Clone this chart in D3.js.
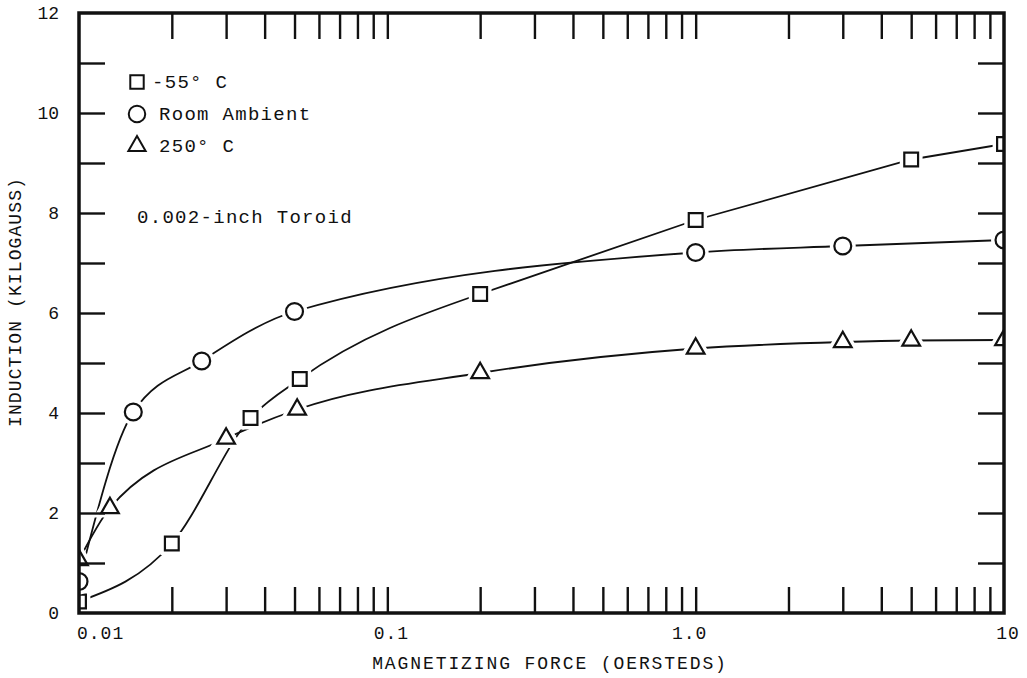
<!DOCTYPE html>
<html>
<head>
<meta charset="utf-8">
<script src="https://cdn.jsdelivr.net/npm/d3@7"></script>
<style>
body { margin: 0; background: #fff; }
text { font-family: "Liberation Mono", "DejaVu Sans Mono", monospace; fill: #111; }
</style>
</head>
<body>
<div id="root"></div>
<script>
// -55 C
const coldH = [0.01, 0.02, 0.036, 0.052, 0.2, 1.0, 5.0, 10];
const coldB = [0.23, 1.39, 3.9, 4.68, 6.38, 7.86, 9.07, 9.38];
// room ambient
const roomH = [0.01, 0.015, 0.025, 0.05, 1.0, 3.0, 10];
const roomB = [0.63, 4.02, 5.04, 6.03, 7.21, 7.34, 7.46];
// 250 C
const hotH = [0.01, 0.0126, 0.03, 0.051, 0.2, 1.0, 3.0, 5.0, 10];
const hotB = [1.06, 2.1, 3.49, 4.07, 4.8, 5.29, 5.42, 5.45, 5.46];

const seriesNames = ["-55° C", "Room Ambient", "250° C"];
const xLabelValues = [0.01, 0.1, 1, 10];
const xLabelText = ["0.01", "0.1", "1.0", "10"];
const yLabelValues = [0, 2, 4, 6, 8, 10, 12];
const note = "0.002-inch Toroid";

function drawChart() {
    const width = 1027, height = 678;
    const left = 79, right = 1004, top = 13, bottom = 613;

    const svg = d3.select("#root").append("svg")
        .attr("width", width)
        .attr("height", height);

    const x = d3.scaleLog().domain([0.01, 10]).range([left, right]);
    const y = d3.scaleLinear().domain([0, 12]).range([bottom, top]);

    // straightFrom: index from which the hand-drawn curve runs as straight strokes
    const series = [
        {name: seriesNames[0], shape: d3.symbolSquare, size: 190, straightFrom: 4, pts: coldH.map((h, i) => ({h: h, b: coldB[i]}))},
        {name: seriesNames[1], shape: d3.symbolCircle, size: 225, straightFrom: null, pts: roomH.map((h, i) => ({h: h, b: roomB[i]}))},
        {name: seriesNames[2], shape: d3.symbolTriangle, size: 135, straightFrom: null, pts: hotH.map((h, i) => ({h: h, b: hotB[i]}))}
    ];

    svg.append("clipPath").attr("id", "plot-clip")
        .append("rect")
        .attr("x", left).attr("y", top)
        .attr("width", right - left).attr("height", bottom - top);

    const plot = svg.append("g").attr("clip-path", "url(#plot-clip)");

    // curves
    const smooth = d3.line()
        .x(d => x(d.h))
        .y(d => y(d.b))
        .curve(d3.curveMonotoneX);
    const straight = d3.line()
        .x(d => x(d.h))
        .y(d => y(d.b));

    series.forEach(s => {
        let d;
        if (s.straightFrom === null) {
            d = smooth(s.pts);
        } else {
            d = smooth(s.pts.slice(0, s.straightFrom + 1)) + straight(s.pts.slice(s.straightFrom));
        }
        plot.append("path")
            .attr("class", "curve")
            .attr("d", d)
            .attr("fill", "none")
            .attr("stroke", "#111")
            .attr("stroke-width", 1.8);
    });

    // markers, with a white halo that breaks the curve
    series.forEach(s => {
        const sym = d3.symbol().type(s.shape).size(s.size);
        const g = plot.append("g");
        g.selectAll(".halo")
            .data(s.pts)
            .enter()
            .append("path")
            .attr("transform", d => `translate(${x(d.h)},${y(d.b)})`)
            .attr("d", sym)
            .attr("fill", "#fff")
            .attr("stroke", "#fff")
            .attr("stroke-width", 9);
        g.selectAll(".mark")
            .data(s.pts)
            .enter()
            .append("path")
            .attr("transform", d => `translate(${x(d.h)},${y(d.b)})`)
            .attr("d", sym)
            .attr("fill", "#fff")
            .attr("stroke", "#111")
            .attr("stroke-width", 2.2);
    });

    // axes with inward ticks on all four sides
    const xTicks = x.ticks().filter(v => v > 0.0101 && v < 9.99);
    const yTicks = d3.range(1, 12);

    const bottomAxis = svg.append("g")
        .attr("transform", `translate(0,${bottom})`)
        .call(d3.axisBottom(x).tickValues(xTicks).tickSizeInner(-26).tickSizeOuter(0).tickFormat(""));
    const topAxis = svg.append("g")
        .attr("transform", `translate(0,${top})`)
        .call(d3.axisTop(x).tickValues(xTicks).tickSizeInner(-26).tickSizeOuter(0).tickFormat(""));
    const leftAxis = svg.append("g")
        .attr("transform", `translate(${left},0)`)
        .call(d3.axisLeft(y).tickValues(yTicks).tickSizeInner(-26).tickSizeOuter(0).tickFormat(""));
    const rightAxis = svg.append("g")
        .attr("transform", `translate(${right},0)`)
        .call(d3.axisRight(y).tickValues(yTicks).tickSizeInner(-26).tickSizeOuter(0).tickFormat(""));

    [bottomAxis, topAxis, leftAxis, rightAxis].forEach(a => {
        a.select(".domain").remove();
        a.selectAll(".tick line").attr("stroke", "#111").attr("stroke-width", 2.4);
    });

    svg.append("rect")
        .attr("x", left).attr("y", top)
        .attr("width", right - left).attr("height", bottom - top)
        .attr("fill", "none")
        .attr("stroke", "#111")
        .attr("stroke-width", 3.5);

    // tick labels
    svg.selectAll(".xlab")
        .data(xLabelValues)
        .enter()
        .append("text")
        .attr("class", "xlab")
        .attr("x", (d, i) => i === 0 ? x(d) - 2 : x(d) + (i === 2 ? -6 : 4))
        .attr("y", 639)
        .attr("text-anchor", (d, i) => i === 0 ? "start" : "middle")
        .attr("font-size", 18)
        .attr("letter-spacing", 1)
        .text((d, i) => xLabelText[i]);

    svg.selectAll(".ylab")
        .data(yLabelValues)
        .enter()
        .append("text")
        .attr("class", "ylab")
        .attr("x", 59)
        .attr("y", d => y(d))
        .attr("dy", "0.35em")
        .attr("text-anchor", "end")
        .attr("font-size", 18)
        .attr("letter-spacing", 0)
        .text(d => d);

    // axis titles
    svg.append("text")
        .attr("x", 550).attr("y", 669)
        .attr("text-anchor", "middle")
        .attr("font-size", 18)
        .attr("letter-spacing", 1.9)
        .text("MAGNETIZING FORCE (OERSTEDS)");

    svg.append("text")
        .attr("transform", "translate(21,302) rotate(-90)")
        .attr("text-anchor", "middle")
        .attr("font-size", 18)
        .attr("letter-spacing", 1.1)
        .text("INDUCTION (KILOGAUSS)");

    // legend
    const legend = svg.append("g");
    series.forEach((s, i) => {
        const cy = 82 + i * 32;
        legend.append("path")
            .attr("transform", `translate(137,${cy})`)
            .attr("d", d3.symbol().type(s.shape).size(s.size * 0.95))
            .attr("fill", "#fff")
            .attr("stroke", "#111")
            .attr("stroke-width", 2);
        legend.append("text")
            .attr("x", i === 0 ? 152 : 159)
            .attr("y", cy + 6)
            .attr("font-size", 19)
            .attr("letter-spacing", 1.3)
            .text(s.name);
    });

    svg.append("text")
        .attr("x", 137).attr("y", 223)
        .attr("font-size", 19)
        .attr("letter-spacing", 1.3)
        .text(note);
}

drawChart();
</script>
</body>
</html>
